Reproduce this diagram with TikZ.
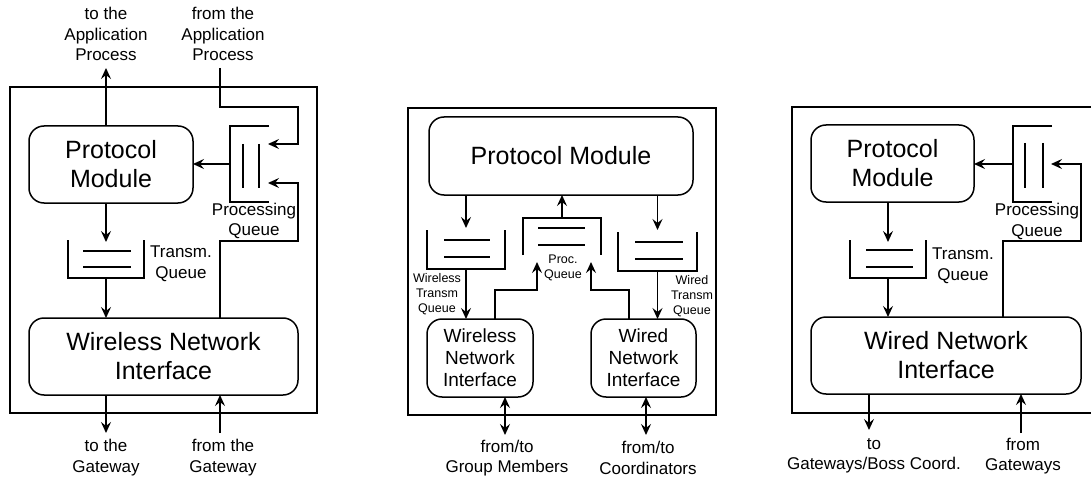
\documentclass[tikz,border=0pt]{standalone}
\usepackage{fontspec}
\setmainfont{Liberation Sans}
\usetikzlibrary{arrows.meta}
\tikzset{
  x=1pt, y=-1pt,
  lw/.style={line width=1.5pt},
  box/.style={lw, draw, rounded corners=15pt, align=center, inner sep=0pt, outer sep=0pt},
  qnode/.style={inner sep=0pt, outer sep=0pt},
  tip/.tip={Stealth[length=11pt,width=10pt,inset=4pt]},
  arr/.style={lw, -tip},
  dbl/.style={lw, tip-tip},
  bigf/.style={font=\fontsize{25}{29}\selectfont},
  medf/.style={font=\fontsize{19}{22}\selectfont},
  labf/.style={align=center, inner sep=0pt, font=\fontsize{17}{20.5}\selectfont},
  smallf/.style={align=center, inner sep=0pt, font=\fontsize{12.5}{15}\selectfont},
}
\begin{document}
\begin{tikzpicture}
\useasboundingbox (0,0) rectangle (1091,481);

% ================= Panel 1 =================
\draw[lw] (10,87) rectangle (317,413);
\node[box, bigf, minimum width=164pt, minimum height=77pt] (pm1) at (111,164.5) {Protocol\\Module};
\node[box, bigf, minimum width=269pt, minimum height=77pt] (wni1) at (163.5,356.5) {Wireless Network\\Interface};
\node[qnode, minimum width=76pt, minimum height=38pt] (tq1) at (106,259) {};
\draw[lw] (tq1.north west) -- (tq1.south west) -- (tq1.south east) -- (tq1.north east);
\draw[lw] (83,251) -- (131,251) (83,267) -- (131,267);
\node[qnode, minimum width=39pt, minimum height=76pt] (pq1) at (249.5,164) {};
\draw[lw] (pq1.north east) -- (pq1.north west) -- (pq1.south west) -- (pq1.south east);
\draw[lw] (243,144) -- (243,188) (259,144) -- (259,188);

\node[labf] (l1a) at (106,34) {to the\\Application\\Process};
\node[labf] (l1b) at (223,34) {from the\\Application\\Process};
\node[labf] (l1c) at (254,221) {Processing\\Queue};
\node[labf] (l1d) at (181,264) {Transm.\\Queue};
\node[labf] (l1e) at (106,457.5) {to the\\Gateway};
\node[labf] (l1f) at (223,457.5) {from the\\Gateway};

\coordinate (c1a) at (106,68);
\coordinate (c1b) at (220,68);
\coordinate (c1c) at (268,144);
\coordinate (c1d) at (268,183);
\coordinate (c1e) at (106,433);
\coordinate (c1f) at (220,433);

\draw[arr] (pm1.north -| c1a) -- (c1a);
\draw[arr] (c1b) -- (220,107) -- (298,107) -- (298,144) -- (c1c);
\draw[arr] (pq1.west) -- (pm1.east |- pq1.west);
\draw[arr] (wni1.north -| c1b) -- (220,241) -- (298,241) -- (298,183) -- (c1d);
\draw[arr] (pm1.south -| tq1) -- ([yshift=-2pt]tq1.north);
\draw[arr] (tq1.south) -- (wni1.north -| tq1);
\draw[arr] (wni1.south -| c1e) -- (c1e);
\draw[arr] (c1f) -- (wni1.south -| c1f);

% ================= Panel 2 =================
\draw[lw] (408,108) rectangle (716,415);
\node[box, bigf, minimum width=264pt, minimum height=78pt] (pm2) at (561,156) {Protocol Module};
\node[box, medf, minimum width=106pt, minimum height=78pt] (wni2) at (480,358) {Wireless\\Network\\Interface};
\node[box, medf, minimum width=105pt, minimum height=78pt] (dni2) at (643.5,358) {Wired\\Network\\Interface};
\node[qnode, minimum width=78pt, minimum height=39pt] (wq2) at (466,249.5) {};
\draw[lw] (wq2.north west) -- (wq2.south west) -- (wq2.south east) -- (wq2.north east);
\draw[lw] (444,240) -- (490,240) (444,257) -- (490,257);
\node[qnode, minimum width=78pt, minimum height=37pt] (pq2) at (562,236.5) {};
\draw[lw] (pq2.south west) -- (pq2.north west) -- (pq2.north east) -- (pq2.south east);
\draw[lw] (538,228) -- (585,228) (538,245) -- (585,245);
\node[qnode, minimum width=79pt, minimum height=39pt] (dq2) at (657.5,251.5) {};
\draw[lw] (dq2.north west) -- (dq2.south west) -- (dq2.south east) -- (dq2.north east);
\draw[lw] (635,242) -- (683,242) (635,259) -- (683,259);

\node[smallf] (l2a) at (437,294) {Wireless\\Transm\\Queue};
\node[smallf] (l2b) at (563,268) {Proc.\\Queue};
\node[smallf] (l2c) at (692,296) {Wired\\Transm\\Queue};
\node[labf] (l2d) at (507,458) {from/to\\Group Members};
\node[labf] (l2e) at (648,458) {from/to\\Coordinators};

\coordinate (c2a) at (537,262);
\coordinate (c2b) at (591,262);
\coordinate (c2c) at (505,435);
\coordinate (c2d) at (646,435);

\draw[arr] (pm2.south -| wq2) -- ([yshift=2pt]wq2.north);
\draw[arr] (wq2.south) -- (wni2.north -| wq2);
\draw[arr] (pq2.north) -- (pm2.south -| pq2);
\draw[arr] (wni2.north -| 495,0) -- (495,290) -- (537,290) -- (c2a);
\draw[arr] (dni2.north -| 629,0) -- (629,290) -- (591,290) -- (c2b);
\draw[arr] (pm2.south -| dq2) -- ([yshift=2pt]dq2.north);
\draw[arr] (dq2.south) -- (dni2.north -| dq2);
\draw[dbl] (wni2.south -| c2c) -- (c2c);
\draw[dbl] (dni2.south -| c2d) -- (c2d);

% ================= Panel 3 =================
\draw[lw] (1091,107) -- (792,107) -- (792,413) -- (1091,413);
\node[box, bigf, minimum width=163pt, minimum height=77pt] (pm3) at (892.5,163.5) {Protocol\\Module};
\node[box, bigf, minimum width=270pt, minimum height=77pt] (dni3) at (946,355.5) {Wired Network\\Interface};
\node[qnode, minimum width=76pt, minimum height=38pt] (tq3) at (888,259) {};
\draw[lw] (tq3.north west) -- (tq3.south west) -- (tq3.south east) -- (tq3.north east);
\draw[lw] (866,250) -- (913,250) (866,267) -- (913,267);
\node[qnode, minimum width=39pt, minimum height=76pt] (pq3) at (1032.5,164) {};
\draw[lw] (pq3.north east) -- (pq3.north west) -- (pq3.south west) -- (pq3.south east);
\draw[lw] (1025,143) -- (1025,188) (1043,143) -- (1043,188);

\node[labf] (l3a) at (1037,221.5) {Processing\\Queue};
\node[labf] (l3b) at (963,266) {Transm.\\Queue};
\node[labf] (l3c) at (874,456) {to\\Gateways/Boss Coord.};
\node[labf] (l3d) at (1023,456) {from\\Gateways};

\coordinate (c3a) at (1051,164);
\coordinate (c3b) at (869,430);
\coordinate (c3c) at (1021,433);

\draw[arr] (pq3.west) -- (pm3.east |- pq3.west);
\draw[arr] (dni3.north -| 1003,0) -- (1003,241) -- (1081,241) -- (1081,164) -- (c3a);
\draw[arr] (pm3.south -| tq3) -- ([yshift=-2pt]tq3.north);
\draw[arr] (tq3.south) -- (dni3.north -| tq3);
\draw[arr] (dni3.south -| c3b) -- (c3b);
\draw[arr] (c3c) -- (dni3.south -| c3c);
\end{tikzpicture}
\end{document}
